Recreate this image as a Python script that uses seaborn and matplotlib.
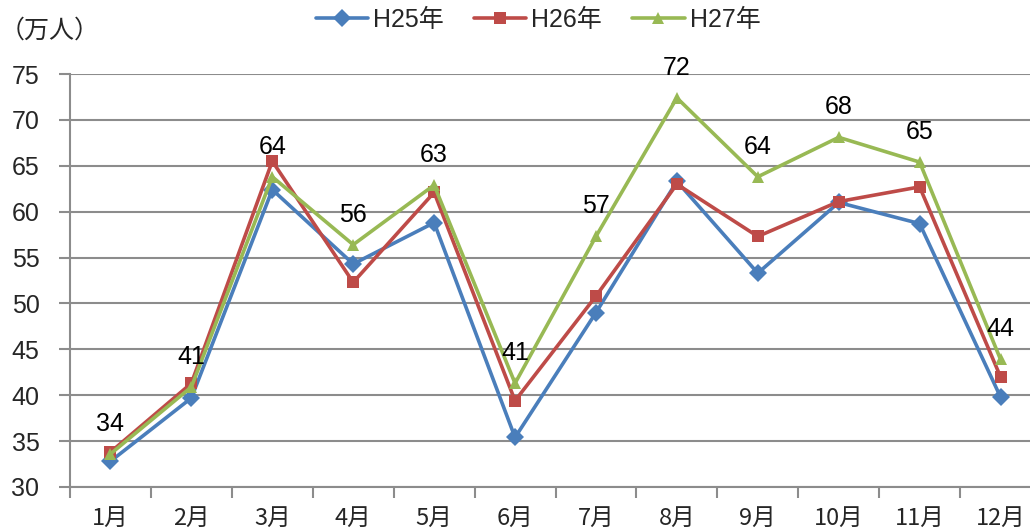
import matplotlib
matplotlib.use("Agg")
import matplotlib.pyplot as plt
import seaborn as sns
import pandas as pd
from matplotlib.ticker import FixedLocator, MultipleLocator

# Monthly visitors (10,000 people)
months = ["1月", "2月", "3月", "4月", "5月", "6月", "7月", "8月", "9月", "10月", "11月", "12月"]
h25 = [32.8, 39.7, 62.4, 54.3, 58.8, 35.4, 49.0, 63.3, 53.3, 61.0, 58.7, 39.8]
h26 = [33.8, 41.3, 65.5, 52.3, 62.1, 39.4, 50.8, 63.0, 57.3, 61.1, 62.7, 42.0]
h27 = [33.6, 40.9, 63.8, 56.4, 62.9, 41.3, 57.3, 72.4, 63.8, 68.1, 65.4, 43.9]
series_names = ["H25年", "H26年", "H27年"]

sns.set_theme(style="white")
plt.rcParams["font.family"] = ["Liberation Sans", "Noto Sans CJK JP", "DejaVu Sans"]

frames = []
for name, vals in zip(series_names, [h25, h26, h27]):
    frames.append(pd.DataFrame({"pos": range(len(months)), "value": vals, "series": name}))
df = pd.concat(frames, ignore_index=True)

colors = {"H25年": "#4A7EBB", "H26年": "#BE4B48", "H27年": "#98B954"}
markers = {"H25年": "D", "H26年": "s", "H27年": "^"}
msizes = {"H25年": 9.5, "H26年": 10.5, "H27年": 12.5}

fig = plt.figure(figsize=(10.30, 5.31), dpi=100)
ax = fig.add_axes([70 / 1030, 44 / 531, 971 / 1030, 413 / 531])

for name in series_names:
    sub = df[df["series"] == name]
    sns.lineplot(data=sub, x="pos", y="value", ax=ax, color=colors[name],
                 marker=markers[name], markersize=msizes[name], markeredgewidth=0,
                 linewidth=2.6, label=name, legend=False, zorder=3)

# value labels for the latest year
for i, v in enumerate(h27):
    ax.annotate(f"{v:.0f}", (i, v), xytext=(0, 13), textcoords="offset points",
                ha="center", va="bottom", fontsize=18, color="black", zorder=4)

ax.set_xlim(-0.5, len(months) - 0.5)
ax.set_ylim(30, 75)
ax.yaxis.set_major_locator(MultipleLocator(5))
ax.set_xticks(range(len(months)))
ax.set_xticklabels(months, family=["Noto Sans CJK JP", "DejaVu Sans"], fontsize=17)
ax.xaxis.set_minor_locator(FixedLocator([i - 0.5 for i in range(len(months) + 1)]))
ax.tick_params(axis="x", which="major", length=0, pad=14)
ax.tick_params(axis="x", which="minor", length=8, width=1.5, color="#8c8c8c", direction="out")
ax.tick_params(axis="y", which="major", length=8, width=1.5, color="#8c8c8c",
               direction="out", labelsize=18, pad=14)
ax.tick_params(left=True, bottom=True, which="both")
ax.set_xlabel("")
ax.set_ylabel("")

ax.grid(axis="y", color="#8c8c8c", linewidth=1.5)
ax.set_axisbelow(True)
for side in ["top", "right"]:
    ax.spines[side].set_visible(False)
for side in ["left", "bottom"]:
    ax.spines[side].set_color("#8c8c8c")
    ax.spines[side].set_linewidth(1.5)

fig.text(0 / 1030, 1 - 31 / 531, "（万人）", fontsize=18, va="center", ha="left",
         family=["Noto Sans CJK JP", "DejaVu Sans"])

handles, labels = ax.get_legend_handles_labels()
for h in handles:
    h.set_markersize(9)
fig.legend(handles, labels, loc="center", bbox_to_anchor=(538 / 1030, 1 - 20 / 531),
           ncol=3, frameon=False, fontsize=18, handlelength=2.1, handletextpad=0.2,
           columnspacing=1.2, borderaxespad=0)

fig.savefig("out.png", dpi=100)
